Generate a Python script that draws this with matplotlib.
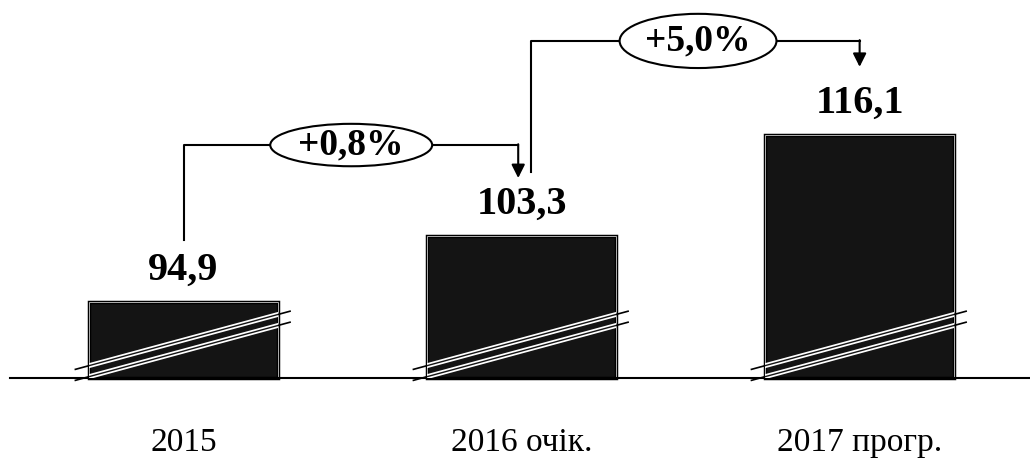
import matplotlib
matplotlib.use("Agg")
import matplotlib.pyplot as plt
from matplotlib.patches import Ellipse

plt.rcParams['font.family'] = ['Liberation Serif', 'DejaVu Serif']

# data
categories = ['2015', '2016 очік.', '2017 прогр.']
values = [94.9, 103.3, 116.1]
growth = ['+0,8%', '+5,0%']

base = 85.2   # broken axis: bars start here
x = list(range(len(values)))

fig = plt.figure(figsize=(10.3, 4.59), dpi=100)
ax = fig.add_axes([0, 0, 1, 1])
ax.set_xlim(-0.543, 2.504)
ax.set_ylim(74.89, 133.31)
ax.axis('off')

w = 0.56
heights = [v - base for v in values]
bars = ax.bar(x, heights, width=w, bottom=base, color='#141414',
              edgecolor='black', linewidth=2.5, zorder=2)
ax.bar(x, heights, width=w, bottom=base, color='none',
       edgecolor='#b0b0b0', linewidth=0.7, zorder=3)

# baseline
ax.plot([-0.513, 2.504], [base, base], color='black', lw=1.5, zorder=4)

# break marks on every bar
for i, b in zip(x, bars):
    for dy in (1.1, -0.3):
        xs = [i - 0.32, i + 0.315]
        ys = [base + dy, base + dy + 7.4]
        ax.plot(xs, ys, color='black', lw=1.2, zorder=5)
        l1, = ax.plot(xs, ys, color='white', lw=3.5, zorder=5)
        l1.set_clip_path(b)
        l2, = ax.plot(xs, ys, color='#141414', lw=1.0, zorder=6)
        l2.set_clip_path(b)

# value labels
for i, v in zip(x, values):
    ax.text(i, v + 2.8, f'{v:.1f}'.replace('.', ','), ha='center',
            va='baseline', fontsize=29, fontweight='bold', zorder=7)

# category labels
for i, c in zip(x, categories):
    ax.text(i, 76.9, c, ha='center', va='center', fontsize=24, zorder=7)

# growth connectors
conn = [
    # left x, left bottom y, top y, arrow x, arrow tip y, ellipse x, ell w, ell h
    (0.0, 102.8, 114.85, 0.99, 110.65, 0.496, 0.479, 5.4),
    (1.028, 111.4, 128.1, 2.0, 124.8, 1.522, 0.464, 6.9),
]
for (lx, ly, ty, axx, tip, ex, ew, eh), g in zip(conn, growth):
    ax.plot([lx, lx, axx], [ly, ty, ty], color='black', lw=1.5, zorder=4)
    ax.annotate('', xy=(axx, tip), xytext=(axx, ty + 0.1),
                arrowprops=dict(arrowstyle='-|>', color='black', lw=1.5,
                                mutation_scale=20, shrinkA=0, shrinkB=0),
                zorder=4)
    ax.add_patch(Ellipse((ex, ty), ew, eh, facecolor='white',
                         edgecolor='black', lw=1.5, zorder=5))
    ax.text(ex, ty, g, ha='center', va='center', fontsize=27,
            fontweight='bold', zorder=6)

fig.savefig('out.png', dpi=100)
